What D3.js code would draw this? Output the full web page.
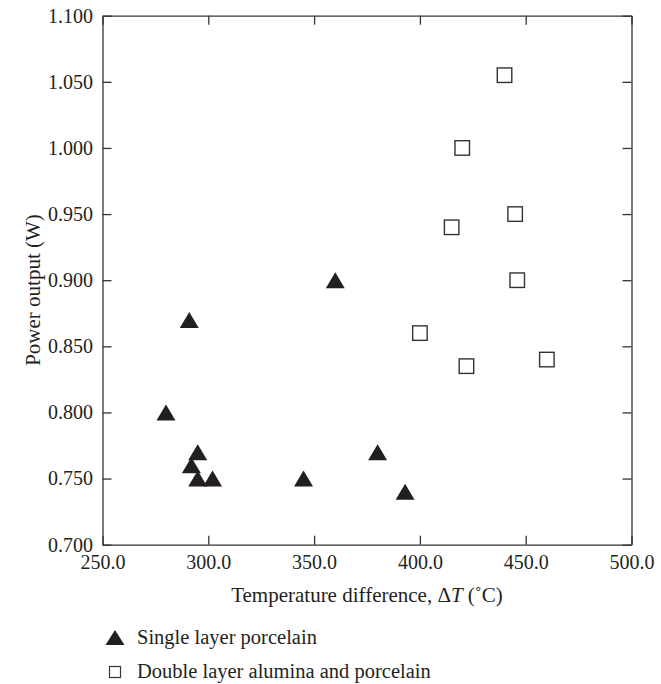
<!DOCTYPE html>
<html>
<head>
<meta charset="utf-8">
<script src="https://cdn.jsdelivr.net/npm/d3@7"></script>
<style>
  body { margin: 0; background: #fff; }
  svg text { font-family: "Liberation Serif", "Times New Roman", "DejaVu Serif", serif !important; fill: #231f20; }
  .axis path, .axis line { stroke: #333; stroke-width: 1.3; }
</style>
</head>
<body>
<svg id="chart" width="661" height="684"></svg>
<script>
// single layer porcelain (filled triangles)
const singleX = [291, 360, 280, 295, 292, 295, 302, 345, 380, 393]
const singleY = [0.870, 0.900, 0.800, 0.770, 0.760, 0.750, 0.750, 0.750, 0.770, 0.740]
// double layer alumina and porcelain (open squares)
const doubleX = [440, 420, 445, 415, 446, 400, 422, 460]
const doubleY = [1.055, 1.000, 0.950, 0.940, 0.900, 0.860, 0.835, 0.840]

const xTicks = [250, 300, 350, 400, 450, 500]
const yTicks = [0.7, 0.75, 0.8, 0.85, 0.9, 0.95, 1.0, 1.05, 1.1]
const legendLabels = ['Single layer porcelain', 'Double layer alumina and porcelain']

const FONT = '"Liberation Serif", "Times New Roman", "DejaVu Serif", serif'
const margin = { left: 102.5, top: 15.7 }
const innerW = 529
const innerH = 529
const tickLen = 9

const svg = d3.select('#chart').attr('font-family', FONT)
const g = svg.append('g').attr('transform', `translate(${margin.left},${margin.top})`)

const x = d3.scaleLinear().domain([250, 500]).range([0, innerW])
const y = d3.scaleLinear().domain([0.7, 1.1]).range([innerH, 0])

// 坐标轴（刻度朝内，四边）
g.append('g')
  .attr('class', 'axis')
  .attr('transform', `translate(0,${innerH})`)
  .call(d3.axisBottom(x).tickValues(xTicks).tickFormat(d3.format('.1f')).tickSizeInner(-tickLen).tickSizeOuter(0).tickPadding(10.5))
g.append('g')
  .attr('class', 'axis')
  .call(d3.axisTop(x).tickValues(xTicks).tickFormat('').tickSizeInner(-tickLen).tickSizeOuter(0))
g.append('g')
  .attr('class', 'axis')
  .call(d3.axisLeft(y).tickValues(yTicks).tickFormat(d3.format('.3f')).tickSizeInner(-tickLen).tickSizeOuter(0).tickPadding(9.5))
g.append('g')
  .attr('class', 'axis')
  .attr('transform', `translate(${innerW},0)`)
  .call(d3.axisRight(y).tickValues(yTicks).tickFormat('').tickSizeInner(-tickLen).tickSizeOuter(0))

g.selectAll('.axis').attr('font-family', FONT).attr('font-size', 20)
g.selectAll('.axis text').attr('fill', '#231f20')

// 轴标题
const xLabel = svg.append('text')
  .attr('x', 367)
  .attr('y', 602)
  .attr('text-anchor', 'middle')
  .attr('font-size', 21)
xLabel.append('tspan').text('Temperature difference, \u0394')
xLabel.append('tspan').attr('font-style', 'italic').text('T')
xLabel.append('tspan').text(' (\u02daC)')

svg.append('text')
  .attr('transform', `translate(40,290) rotate(-90)`)
  .attr('text-anchor', 'middle')
  .attr('font-size', 21)
  .text('Power output (W)')

// 三角形（以包围盒中心定位）
const triW = 19, triH = 16
const triPath = `M0,${-triH / 2}L${triW / 2},${triH / 2}L${-triW / 2},${triH / 2}Z`
const sq = 14.5

g.selectAll('path.tri')
  .data(singleX.map((d, i) => [d, singleY[i]]))
  .join('path')
  .attr('class', 'tri')
  .attr('d', triPath)
  .attr('transform', d => `translate(${x(d[0])},${y(d[1])})`)
  .attr('fill', '#231f20')

g.selectAll('rect.sq')
  .data(doubleX.map((d, i) => [d, doubleY[i]]))
  .join('rect')
  .attr('class', 'sq')
  .attr('x', d => x(d[0]) - sq / 2)
  .attr('y', d => y(d[1]) - sq / 2)
  .attr('width', sq)
  .attr('height', sq)
  .attr('fill', '#fff')
  .attr('stroke', '#333')
  .attr('stroke-width', 1.4)

// 图例
const leg = svg.append('g')
leg.append('path')
  .attr('d', `M0,-8L9.5,7L-9.5,7Z`)
  .attr('transform', 'translate(115,638)')
  .attr('fill', '#231f20')
leg.append('rect')
  .attr('x', 109.5).attr('y', 666.5)
  .attr('width', 11).attr('height', 11)
  .attr('fill', '#fff').attr('stroke', '#333').attr('stroke-width', 1.2)
leg.selectAll('text')
  .data(legendLabels)
  .join('text')
  .attr('x', 137)
  .attr('y', (d, i) => 644 + i * 34)
  .attr('font-size', 20.5)
  .text(d => d)
</script>
</body>
</html>
